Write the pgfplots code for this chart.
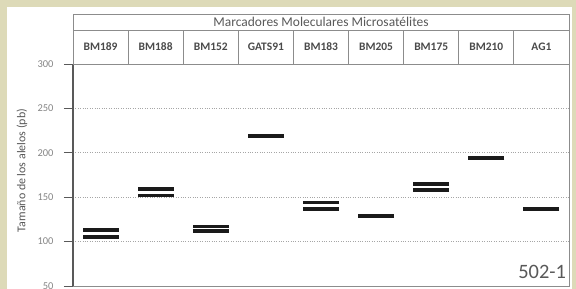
\documentclass[border=0pt]{standalone}
\usepackage{pgfplots}
\pgfplotsset{compat=1.18}
\usepackage{fontspec}
\setmainfont{Carlito}
\definecolor{bg}{HTML}{DDDAB8}
\definecolor{txt}{HTML}{595959}
\definecolor{lbl}{HTML}{4A4A4A}
\definecolor{tickc}{HTML}{858585}
\definecolor{frame}{HTML}{8C8C8C}
\definecolor{band}{HTML}{1A1A1A}
\begin{document}
\begin{tikzpicture}
\useasboundingbox (0,0) rectangle (576bp,289bp);
\fill[bg] (0,0) rectangle (576bp,289bp);
\fill[white] (7bp,0) rectangle (572bp,282bp);
\begin{axis}[
  at={(73bp,3bp)}, anchor=south west,
  scale only axis, width=496bp, height=222bp,
  xmin=-0.5, xmax=8.5, ymin=50, ymax=300,
  xtick=\empty,
  ytick={50,100,150,200,250,300},
  ytick pos=left,
  tick align=outside,
  major tick length=9bp,
  tick style={draw=txt, line width=0.8bp},
  axis line style={draw=frame, line width=0.8bp},
  ymajorgrids,
  grid style={dotted, draw=black!35, line width=0.7bp},
  /pgf/number format/assume math mode=true,
  yticklabel style={font=\fontsize{10.5}{11}\selectfont, text=tickc, xshift=-7bp},
  ylabel={Tamaño de los alelos (pb)},
  every axis y label/.style={at={(axis description cs:-0.103,0.52)}, rotate=90, anchor=center, font=\fontsize{12}{13}\selectfont, text=txt},
  clip=false,
]
\addplot[only marks, mark=-, mark size=18bp, mark options={line width=3.6bp, draw=band}] table {
x y
0 113
0 105
1 159
1 152
2 117
2 112
3 219
4 144
4 137
5 129
6 165
6 158
7 194
8 137
};
% left spine
\draw[txt, line width=1.2bp] (rel axis cs:0,0) -- (rel axis cs:0,1);
% header table
\draw[frame, line width=0.8bp] (axis cs:-0.5,300) rectangle (axis cs:8.5,356.3);
\draw[frame, line width=0.8bp] (axis cs:-0.5,338.3) -- (axis cs:8.5,338.3);
\pgfplotsinvokeforeach{0.5,1.5,2.5,3.5,4.5,5.5,6.5,7.5}{
  \draw[frame, line width=0.8bp] (axis cs:#1,300) -- (axis cs:#1,338.3);
}
\node[font=\fontsize{13.5}{14}\selectfont, text=txt] at (axis cs:4,347.3) {Marcadores Moleculares Microsatélites};
\node[font=\fontsize{11.5}{12}\selectfont\bfseries, text=lbl] at (axis cs:0,319.15) {BM189};
\node[font=\fontsize{11.5}{12}\selectfont\bfseries, text=lbl] at (axis cs:1,319.15) {BM188};
\node[font=\fontsize{11.5}{12}\selectfont\bfseries, text=lbl] at (axis cs:2,319.15) {BM152};
\node[font=\fontsize{11.5}{12}\selectfont\bfseries, text=lbl] at (axis cs:3,319.15) {GATS91};
\node[font=\fontsize{11.5}{12}\selectfont\bfseries, text=lbl] at (axis cs:4,319.15) {BM183};
\node[font=\fontsize{11.5}{12}\selectfont\bfseries, text=lbl] at (axis cs:5,319.15) {BM205};
\node[font=\fontsize{11.5}{12}\selectfont\bfseries, text=lbl] at (axis cs:6,319.15) {BM175};
\node[font=\fontsize{11.5}{12}\selectfont\bfseries, text=lbl] at (axis cs:7,319.15) {BM210};
\node[font=\fontsize{11.5}{12}\selectfont\bfseries, text=lbl] at (axis cs:8,319.15) {AG1};
\node[anchor=base east, font=\fontsize{20.5}{21}\selectfont, text=txt, inner sep=0pt] at (axis cs:8.45,57.9) {502-1};
\end{axis}
\end{tikzpicture}
\end{document}
